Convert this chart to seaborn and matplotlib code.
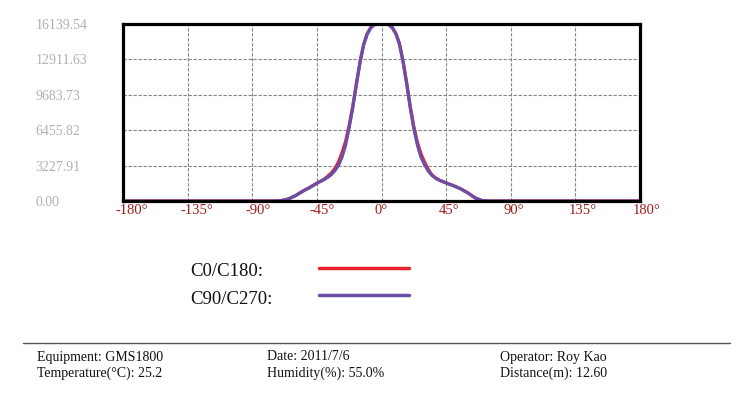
import matplotlib
matplotlib.use("Agg")
import matplotlib.pyplot as plt
import matplotlib.transforms as mtransforms
import seaborn as sns
import pandas as pd
from matplotlib.lines import Line2D

# ---- data ----
angles = [-180, -170, -160, -150, -140, -130, -120, -110, -100, -90, -80, -75,
          -70, -65, -60, -55, -50, -45, -40, -37.5, -35, -32.5, -30, -27.5, -25,
          -22.5, -20, -17.5, -15, -12.5, -10, -7.5, -5, -2.5,
          0, 2.5, 5, 7.5, 10, 12.5, 15, 17.5, 20, 22.5, 25, 27.5, 30, 32.5, 35,
          37.5, 40, 45, 50, 55, 60, 65, 70, 75,
          80, 90, 100, 110, 120, 130, 140, 150, 160, 170, 180]
c0_c180 = [0, 0, 0, 0, 0, 0, 0, 0, 0, 0, 0, 0,
           30, 180, 480, 880, 1230, 1620, 1980, 2250, 2550, 2950, 3550, 4400, 5450,
           6900, 8650, 10700, 12650, 14250, 15250, 15820, 16080, 16139.54,
           16139.54, 16139.54, 16080, 15820, 15280, 14350, 12750, 10800, 8650, 6800, 5350, 4300, 3550, 2900, 2400,
           2120, 1920, 1650, 1400, 1120, 750, 300, 40, 0,
           0, 0, 0, 0, 0, 0, 0, 0, 0, 0, 0]
c90_c270 = [0, 0, 0, 0, 0, 0, 0, 0, 0, 0, 0, 0,
            30, 180, 480, 880, 1230, 1620, 1950, 2150, 2400, 2750, 3250, 4000, 5100,
            6700, 8500, 10600, 12600, 14200, 15200, 15800, 16080, 16139.54,
            16139.54, 16139.54, 16080, 15800, 15250, 14300, 12700, 10700, 8500, 6600, 5100, 4000, 3300, 2750, 2350,
            2100, 1900, 1650, 1400, 1120, 750, 300, 40, 0,
            0, 0, 0, 0, 0, 0, 0, 0, 0, 0, 0]
series_names = ["C0/C180:", "C90/C270:"]
series_colors = ["#e8232b", "#6a4ea8"]
y_ticks = [0.00, 3227.91, 6455.82, 9683.73, 12911.63, 16139.54]
y_tick_labels = ["0.00", "3227.91", "6455.82", "9683.73", "12911.63", "16139.54"]
x_ticks = [-180, -135, -90, -45, 0, 45, 90, 135, 180]
x_tick_labels = ["-180°", "-135°", "-90°", "-45°", "0°", "45°", "90°", "135°", "180°"]
footer = [("Equipment: GMS1800", "Temperature(°C): 25.2"),
          ("Date: 2011/7/6", "Humidity(%): 55.0%"),
          ("Operator: Roy Kao", "Distance(m): 12.60")]

df = pd.concat([
    pd.DataFrame({"angle": angles, "value": c0_c180, "series": series_names[0]}),
    pd.DataFrame({"angle": angles, "value": c90_c270, "series": series_names[1]}),
])

sns.set_theme(style="white")
plt.rcParams["font.family"] = ["Liberation Serif", "DejaVu Serif"]

W, H = 755, 396
fig = plt.figure(figsize=(W / 100, H / 100), dpi=100)
fig.patch.set_facecolor("white")
ax = fig.add_axes([123 / W, 1 - 201 / H, (640 - 123) / W, (201 - 24) / H])

sns.lineplot(data=df, x="angle", y="value", hue="series",
             palette=dict(zip(series_names, series_colors)),
             linewidth=2.3, ax=ax, legend=False, sort=False)

ax.set_xlim(-180, 180)
ax.set_ylim(0, 16139.54)
ax.set_xlabel("")
ax.set_ylabel("")
ax.set_xticks(x_ticks)
ax.set_xticklabels(x_tick_labels, color="#a01c1c", fontsize=10.5)
ax.set_yticks(y_ticks)
ax.set_yticklabels(y_tick_labels, color="#b0b0b0", fontsize=10)
ax.tick_params(axis="y", length=0, pad=63)
ax.tick_params(axis="x", length=0, pad=2.5)
for lab in ax.get_yticklabels():
    lab.set_horizontalalignment("left")
shift = mtransforms.ScaledTranslation(-7 / 100, 0, fig.dpi_scale_trans)
for lab in ax.get_xticklabels():
    lab.set_horizontalalignment("left")
    lab.set_transform(lab.get_transform() + shift)

ax.grid(True, color="#858585", linestyle=(0, (3, 1.5)), linewidth=0.8)
for s in ax.spines.values():
    s.set_color("black")
    s.set_linewidth(2.3)
    s.set_visible(True)

# legend: label first, then line sample
leg_rows = [(268, 272), (295, 300)]
for (ly, ty), name, col in zip(leg_rows, series_names, series_colors):
    fig.text(190 / W, 1 - ty / H, name, fontsize=13.5, va="center", ha="left", color="#111111")
    fig.add_artist(Line2D([319 / W, 409 / W], [1 - ly / H, 1 - ly / H], color=col, lw=2.5))

# footer
fig.add_artist(Line2D([23 / W, 730 / W], [1 - 342.5 / H, 1 - 342.5 / H], color="#555555", lw=1.0))
col_x = [37, 267, 500]
for x, (l1, l2) in zip(col_x, footer):
    fig.text(x / W, 1 - 357 / H, l1, fontsize=10, va="center", ha="left", color="#111111")
    fig.text(x / W, 1 - 373 / H, l2, fontsize=10, va="center", ha="left", color="#111111")

fig.savefig("out.png", dpi=100)
